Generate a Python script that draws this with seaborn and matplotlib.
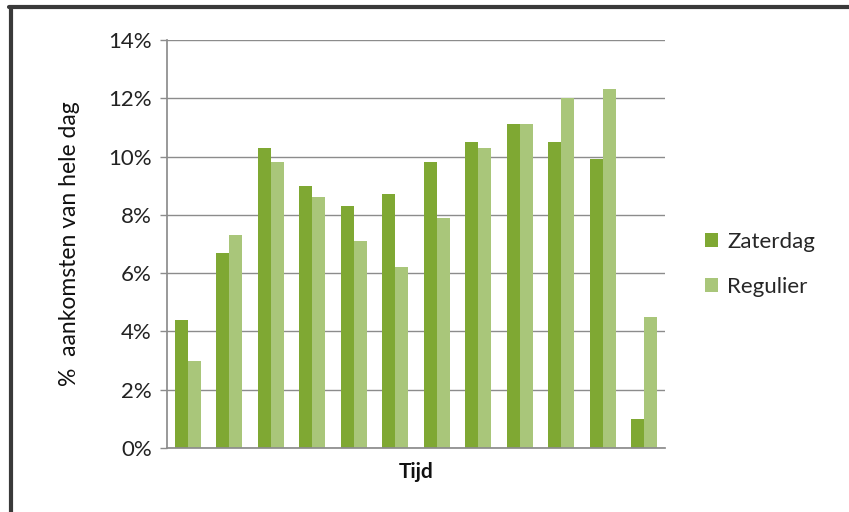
import matplotlib
matplotlib.use("Agg")
import matplotlib.pyplot as plt
import matplotlib.lines as mlines
import seaborn as sns
import pandas as pd

# Arrival share per time slot (percent of whole-day arrivals)
slots = [str(i) for i in range(1, 13)]
zaterdag = [4.4, 6.7, 10.3, 9.0, 8.3, 8.7, 9.8, 10.5, 11.1, 10.5, 9.9, 1.0]
regulier = [3.0, 7.3, 9.8, 8.6, 7.1, 6.2, 7.9, 10.3, 11.1, 12.0, 12.3, 4.5]
series = ["Zaterdag", "Regulier"]
y_ticks = [0, 2, 4, 6, 8, 10, 12, 14]

df = pd.DataFrame({
    "slot": slots * 2,
    "serie": [series[0]] * len(slots) + [series[1]] * len(slots),
    "pct": zaterdag + regulier,
})

sns.set_theme(style="white")
plt.rcParams["font.family"] = ["Lato", "DejaVu Sans"]

fig = plt.figure(figsize=(8.49, 5.12), dpi=100)
ax = fig.add_axes([0.1967, 0.125, 0.5866, 0.797])

palette = {"Zaterdag": "#7fa833", "Regulier": "#a9c67a"}
sns.barplot(data=df, x="slot", y="pct", hue="serie", palette=palette,
            width=0.63, gap=0, saturation=1, ax=ax, linewidth=0)

ax.set_ylim(0, 14)
ax.set_xlim(-0.5, len(slots) - 0.5)
ax.set_yticks(y_ticks)
ax.set_yticklabels([f"{t}%" for t in y_ticks], fontsize=16, color="#222222")
ax.set_xticks([])
ax.yaxis.grid(True, color="#8c8c8c", linewidth=1.0)
ax.set_axisbelow(True)
ax.tick_params(axis="y", length=5, width=1, color="#8c8c8c", left=True, pad=6)

for side in ["top", "right"]:
    ax.spines[side].set_visible(False)
ax.spines["left"].set_color("#8c8c8c")
ax.spines["bottom"].set_color("#8c8c8c")

ax.set_xlabel("Tijd", fontsize=15, fontweight="bold", color="#111111", labelpad=10)
ax.set_ylabel("%  aankomsten van hele dag", fontsize=16.5, color="#111111", labelpad=20)

handles, labels = ax.get_legend_handles_labels()
ax.legend(handles, labels, loc="center left", bbox_to_anchor=(1.04, 0.45),
          frameon=False, fontsize=16, handlelength=0.6, handleheight=0.6,
          handletextpad=0.4, labelspacing=1.1)

# Dark frame along the top and left edges of the chart image
fig.add_artist(mlines.Line2D([0.011, 1.0], [0.986, 0.986], transform=fig.transFigure,
                             color="#3a3a3a", linewidth=3))
fig.add_artist(mlines.Line2D([0.013, 0.013], [0.0, 0.986], transform=fig.transFigure,
                             color="#3a3a3a", linewidth=3))

fig.savefig("out.png", dpi=100, facecolor="white")
